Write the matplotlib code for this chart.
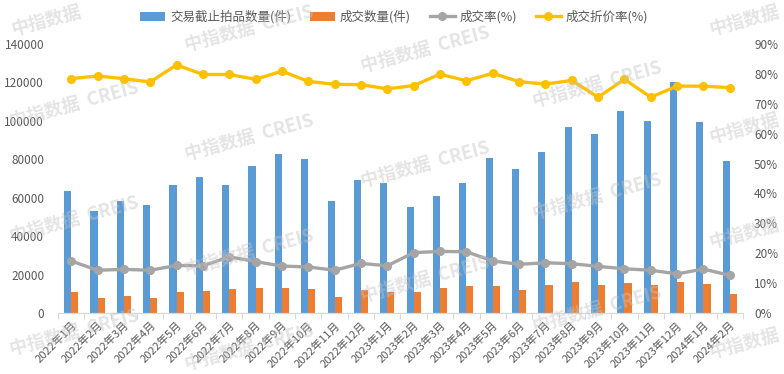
import numpy as np
import matplotlib
matplotlib.use('Agg')
import matplotlib.pyplot as plt

plt.rcParams['font.family'] = ['Noto Sans CJK SC', 'DejaVu Sans']

''' DADOS '''
months = ['2022年1月', '2022年2月', '2022年3月', '2022年4月', '2022年5月', '2022年6月',
          '2022年7月', '2022年8月', '2022年9月', '2022年10月', '2022年11月', '2022年12月',
          '2023年1月', '2023年2月', '2023年3月', '2023年4月', '2023年5月', '2023年6月',
          '2023年7月', '2023年8月', '2023年9月', '2023年10月', '2023年11月', '2023年12月',
          '2024年1月', '2024年2月']

# 交易截止拍品数量(件)
lots = [63600, 53200, 58100, 56000, 66600, 70800, 66600, 76700, 82500, 80100, 58300, 69300,
        67600, 55200, 60700, 67500, 80500, 75000, 84000, 96800, 93000, 105100, 100000, 120200,
        99600, 79100]
# 成交数量(件)
deals = [11100, 7600, 8700, 7800, 10800, 11400, 12500, 13200, 13000, 12500, 8300, 11800,
         10800, 10900, 12800, 13900, 14200, 12100, 14600, 16100, 14600, 15600, 14600, 16300,
         14900, 10000]
# 成交率(%)
rate = [17.4, 14.3, 14.6, 14.3, 15.9, 15.8, 18.8, 17.2, 15.7, 15.4, 14.3, 16.6,
        15.8, 20.2, 20.6, 20.5, 17.4, 16.3, 16.8, 16.5, 15.6, 14.8, 14.3, 13.1, 14.7, 12.6]
# 成交折价率(%)
discount = [78.4, 79.3, 78.4, 77.3, 83.0, 79.8, 79.8, 78.2, 80.9, 77.5, 76.5, 76.4,
            75.0, 76.1, 79.9, 77.7, 80.2, 77.4, 76.6, 77.8, 72.2, 78.2, 72.2, 75.9, 75.9, 75.4]

left_ticks = [0, 20000, 40000, 60000, 80000, 100000, 120000, 140000]
right_ticks = [0, 10, 20, 30, 40, 50, 60, 70, 80, 90]

''' FIGURA '''
txt = '#595959'
fig = plt.figure(figsize=(7.84, 3.74), dpi=100)
ax = fig.add_axes([58 / 784, 61 / 374, 685 / 784, 269 / 374])
ax2 = ax.twinx()

x = np.arange(len(months))
w = 0.27
b1 = ax.bar(x - w / 2, lots, w, color='#5B9BD5', label='交易截止拍品数量(件)')
b2 = ax.bar(x + w / 2, deals, w, color='#ED7D31', label='成交数量(件)')
l1, = ax2.plot(x, rate, color='#A5A5A5', lw=2.4, marker='o', ms=5.5, label='成交率(%)')
l2, = ax2.plot(x, discount, color='#FFC000', lw=2.4, marker='o', ms=5.5, label='成交折价率(%)')

ax.set_xlim(-0.5, len(months) - 0.5)
ax.set_ylim(0, 140000)
ax.set_yticks(left_ticks)
ax.set_yticklabels([str(v) for v in left_ticks])
ax2.set_ylim(0, 90)
ax2.set_yticks(right_ticks)
ax2.set_yticklabels([f'{v}%' for v in right_ticks])

ax.set_xticks(x)
ax.set_xticklabels(months, rotation=45, ha='right', va='top', rotation_mode='anchor')
ax.set_xticks(np.arange(len(months) + 1) - 0.5, minor=True)
ax.tick_params(axis='x', which='major', length=0, pad=5, labelsize=8, labelcolor=txt)
ax.tick_params(axis='x', which='minor', length=4, color='#d9d9d9', width=0.8)
ax.tick_params(axis='y', length=0, pad=10, labelsize=8.5, labelcolor=txt)
ax2.tick_params(axis='y', length=0, pad=8, labelsize=8.5, labelcolor=txt)

for a in (ax, ax2):
    for s in ('top', 'left', 'right'):
        a.spines[s].set_visible(False)
    a.spines['bottom'].set_color('#d9d9d9')

fig.legend(handles=[b1, b2, l1, l2], loc='center', bbox_to_anchor=(0.503, 0.955), ncol=4,
           frameon=False, fontsize=9, labelcolor=txt, handlelength=2.0, handletextpad=0.4,
           columnspacing=1.5)

# marca d'água
marks = [(46, 20, False), (74, 105, True), (74, 220, True), (74, 333, True),
         (249, 29, True), (249, 138, True), (249, 253, True), (249, 348, True),
         (425, 50, True), (425, 165, True), (425, 280, True),
         (597, 85, True), (597, 197, True), (597, 310, True),
         (744, 20, False), (744, 128, False), (744, 233, False), (744, 343, False)]
for mx, my, full in marks:
    fig.text(mx / 784, 1 - my / 374, '中指数据  CREIS' if full else '中指数据',
             fontsize=13, fontweight='bold', color='#c4c4c4', alpha=0.45,
             rotation=15, ha='center', va='center', zorder=20)

plt.savefig('out.png', dpi=100)
